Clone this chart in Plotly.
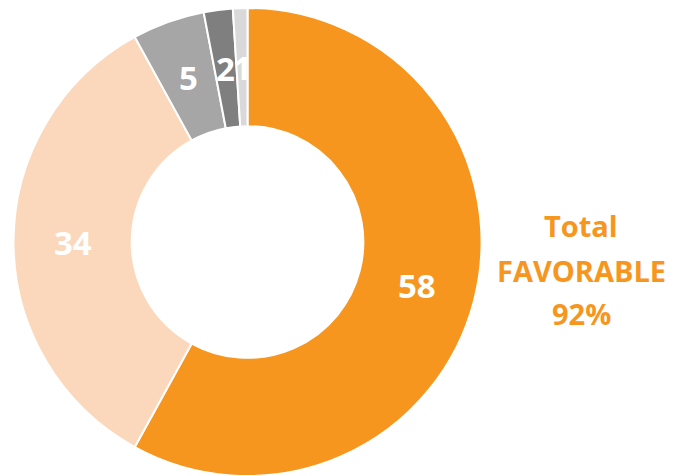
import math
import plotly.graph_objects as go

categories = ["Very favorable", "Somewhat favorable", "Somewhat unfavorable", "Very unfavorable", "Don't know"]
values = [58, 34, 5, 2, 1]
colors = ["#F7961E", "#FBD8BB", "#A6A6A6", "#7F7F7F", "#D9D9D9"]
side_lines = ["Total", "FAVORABLE", "92%"]

W, H = 668, 468
HOLE = 0.495
# donut geometry in figure pixels (derived from the domain below)
dom_x = [5.5 / W, 473.5 / W]
cx_px = (dom_x[0] + dom_x[1]) / 2 * W
cy_px = H / 2
r_out = min((dom_x[1] - dom_x[0]) * W, H) / 2
r_lab = r_out * (1 + HOLE) / 2

fig = go.Figure(go.Pie(
    labels=categories,
    values=values,
    hole=HOLE,
    sort=False,
    direction="clockwise",
    rotation=0,
    marker=dict(colors=colors, line=dict(color="white", width=2)),
    textinfo="none",
    showlegend=False,
    hoverinfo="label+value",
    domain=dict(x=dom_x, y=[0, 1]),
))

# value labels at the middle of each ring segment
total = sum(values)
cum = 0
for v in values:
    mid = (cum + v / 2) / total * 2 * math.pi
    cum += v
    px = cx_px + r_lab * math.sin(mid)
    py = cy_px - r_lab * math.cos(mid)
    fig.add_annotation(
        text=f"<b>{v}</b>", x=px / W, y=1 - py / H, xref="paper", yref="paper",
        showarrow=False, xanchor="center", yanchor="middle",
        font=dict(family="Open Sans", size=33, color="white"),
    )

ys_px = [217, 262, 305]
for txt, yp in zip(side_lines, ys_px):
    fig.add_annotation(
        text=f"<b>{txt}</b>", x=573 / W, y=1 - yp / H, xref="paper", yref="paper",
        showarrow=False, xanchor="center", yanchor="middle",
        font=dict(family="Open Sans", size=29, color="#F7961E"),
    )

fig.update_layout(
    width=W, height=H,
    margin=dict(l=0, r=0, t=0, b=0),
    paper_bgcolor="white", plot_bgcolor="white",
)

fig.write_html("out.html")
